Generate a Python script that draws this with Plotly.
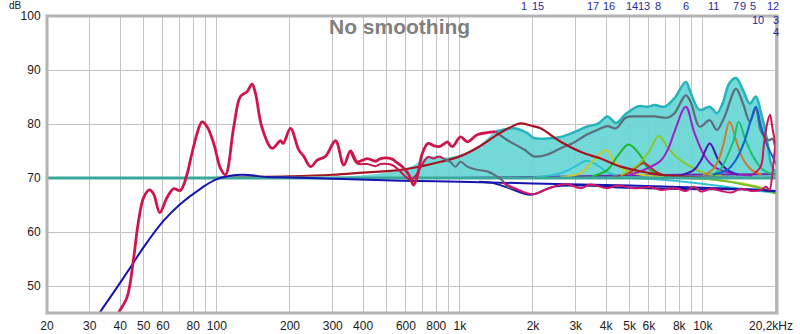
import math
import plotly.graph_objects as go

# ---------------- data ----------------
meas_f = [37, 39.4, 42.7, 45.5, 47.4, 50, 52.8, 55, 58.2, 62.4, 66.4, 70.8, 75.4, 77.8, 83, 86.9, 91.2, 97.1,
          103.5, 108.5, 117.4, 125, 133.3, 139.7, 144.2, 153.7, 169, 182.8, 187.6, 200.9, 217.4, 228, 243,
          259, 280, 308, 333, 355, 378, 416, 450, 472, 527, 545, 580, 617, 645, 670, 700, 740, 780, 820,
          860, 888, 931, 1007, 1074, 1180, 1298, 1404]
meas_db = [42, 45, 47.9, 55.3, 61.5, 66.4, 67.8, 67.0, 63.6, 66.4, 68.0, 67.7, 70.7, 73.3, 78.3, 80.4, 79.5, 76.4,
           71.8, 70.6, 79.5, 85.1, 86.0, 87.4, 85.7, 79.2, 75.5, 76.9, 76.4, 79.2, 75.2, 74.0, 72.1,
           73.3, 74.0, 76.9, 72.4, 75.0, 73.0, 73.6, 73.1, 73.6, 73.5, 73.0, 72.1, 70.6, 68.7, 70.5, 74.5, 76.4, 76.0, 75.8,
           76.3, 76.7, 75.8, 77.6, 76.7, 78.0, 78.4, 78.6]

pred_lo_f = [355, 378, 416, 450, 472, 527, 560, 600, 630, 660, 700, 740, 780, 820, 855]
pred_lo_db = [75.0, 72.7, 72.6, 72.2, 72.6, 72.4, 71.5, 70.2, 69.6, 70.5, 72.5, 73.9, 73.6, 74.0, 73.6]

grey_lo_f = [855, 913, 958, 1007, 1074, 1180, 1300, 1420, 1500, 1570, 1700]
grey_lo_db = [73.6, 73.0, 72.1, 73.0, 72.1, 71.5, 71.2, 70.3, 69.5, 68.4, 68.0]

pred_hi_f = [1500, 1700, 2000, 2300, 2740, 3150, 3440, 4050, 4450, 5220, 6130, 6730, 7760, 8530, 9180, 9840,
             10800, 11900, 13100, 14400, 15800, 17400, 18200, 18800, 19300, 19700, 20000, 20200]
pred_hi_db = [69.2, 68.0, 67.0, 68.0, 68.9, 68.1, 68.8, 68.1, 68.6, 68.1, 68.3, 67.8, 68.1, 67.6, 68.4, 67.5,
              68.0, 67.6, 67.3, 68.0, 67.6, 67.8, 68.4, 67.8, 70.5, 74.5, 76.5, 75.0]

target_f = [30, 32.9, 36.4, 41.4, 45.5, 50, 60.4, 70.8, 85.6, 100, 125, 161, 200, 570, 1000, 2000, 5000,
            10000, 17400, 20200]
target_db = [42, 45, 47.9, 51.6, 54.4, 57.2, 62.1, 65.2, 68.0, 69.8, 70.6, 70.2, 70.1, 69.5, 69.3, 69.0, 68.6,
             68.2, 67.8, 67.6]

navy_f = [1200, 1360, 1600, 1960, 2430, 3150, 5000, 10000, 15000, 18000, 20200]
navy_db = [69.3, 69.1, 68.1, 66.9, 68.4, 68.6, 68.2, 67.9, 67.9, 67.7, 67.5]

flat_f = [20, 20200]
flat_db = [70, 70]

fill_f = [200, 300, 400, 500, 570, 650, 700, 760, 850, 1000, 1200, 1404, 1671, 1897, 2017, 2280, 2601, 2960,
          3320, 3720, 4050, 4390, 4830, 5430, 5950, 6340, 6960, 7650, 8510, 8930, 9700, 10680, 11420, 12060,
          12840, 13700, 14630, 15620, 16530, 17370, 18290, 19000, 19600, 20200]
fill_db = [70.0, 70.2, 70.5, 71.0, 71.5, 72.4, 73.5, 74.0, 73.8, 74.3, 76.0, 78.6, 79.2, 78.3, 77.4, 77.3, 77.6,
           78.5, 79.5, 80.1, 81.4, 80.2, 81.9, 83.3, 83.2, 83.5, 83.2, 84.8, 87.8, 85.7, 82.6, 83.2, 82.0, 83.8,
           87.5, 88.5, 86.3, 83.8, 85.1, 82.0, 77.6, 73.0, 71.5, 71.0]

grey_hi_f = [1404, 1570, 1850, 2017, 2280, 2601, 2960, 3320, 3683, 4050, 4390, 4830, 5430, 6300, 7200, 7650,
             8510, 8930, 9700, 10680, 11420, 12300, 13700, 14630, 15620, 16530, 17370, 18700, 19300, 19800, 20200]
grey_hi_db = [78.6, 77.0, 75.2, 74.0, 74.3, 75.5, 76.6, 78.0, 78.9, 79.6, 79.2, 81.2, 81.4, 81.4, 81.2, 82.0,
              85.3, 84.0, 79.5, 80.7, 78.9, 81.4, 86.5, 83.8, 80.4, 82.9, 78.6, 77.0, 77.3, 76.0, 73.0]

# individual filters (name, colour, freqs, dB)
f1_f = [100, 200, 300, 400, 570, 700, 834, 1000, 1200, 1400, 1600, 1780, 2000, 2150, 2600, 3150, 3800, 4600,
        5570, 6730, 8000, 10000, 20200]
f1_db = [70.05, 70.3, 70.6, 71.0, 71.5, 72.2, 73.0, 74.0, 75.8, 77.8, 79.3, 80.1, 79.6, 79.2, 76.7, 74.8, 73.6,
         72.1, 71.2, 70.6, 70.3, 70.1, 70.0]
f17_f = [2000, 2600, 3000, 3330, 3700, 4000, 4600, 6000]
f17_db = [70.1, 70.9, 72.2, 73.2, 72.3, 71.2, 70.3, 70.0]
f16_f = [2600, 3150, 3500, 4000, 4300, 4830, 5570, 7000]
f16_db = [70.2, 70.9, 73.0, 75.2, 73.2, 71.3, 70.6, 70.2]
f14_f = [3500, 4050, 4450, 4950, 5570, 5950, 6730, 8000]
f14_db = [70.3, 71.5, 74.0, 76.2, 74.0, 71.8, 70.6, 70.2]
f13_f = [4300, 5000, 5400, 5700, 6000, 6500, 7200]
f13_db = [70.2, 71.0, 72.2, 72.8, 72.2, 71.0, 70.3]
f8_f = [4600, 5400, 6000, 6600, 7200, 8140, 8930, 10000, 12000]
f8_db = [70.5, 72.4, 74.9, 77.8, 75.5, 73.2, 72.1, 71.0, 70.4]
f6_f = [5000, 5918, 6734, 7220, 7650, 8510, 9200, 10100, 11100, 13000, 16000]
f6_db = [70.6, 71.8, 73.3, 75.5, 78.6, 83.2, 78.6, 74.3, 72.1, 70.9, 70.4]
f11_f = [8000, 9200, 9840, 10680, 11600, 12600, 14000]
f11_db = [70.4, 71.5, 73.3, 76.4, 73.3, 71.5, 70.6]
f7_f = [10000, 10950, 11600, 12180, 12900, 13830, 14730, 15900, 17500]
f7_db = [70.5, 71.5, 73.3, 76.4, 80.4, 76.4, 73.3, 71.5, 70.6]
f9_f = [11000, 11900, 12600, 13400, 14050, 15000, 16100, 17700, 20200]
f9_db = [70.6, 71.8, 74.0, 77.0, 80.4, 77.0, 74.0, 71.5, 70.5]
f5_f = [11000, 12600, 13660, 14730, 15770, 16530, 17380, 18520, 19700, 20200]
f5_db = [70.6, 71.5, 73.3, 76.4, 80.7, 83.2, 79.5, 75.8, 73.3, 72.1]
f12_f = [16000, 17300, 17800, 18290, 18900, 19400, 20000, 20200]
f12_db = [70.6, 72.1, 75.8, 79.5, 81.7, 78.9, 76.1, 75.5]
f15_f = [1000, 2000, 4000, 8000, 20200]
f15_db = [70.0, 70.2, 70.4, 70.6, 70.7]
f10_f = [5000, 6100, 7220, 10100, 13800, 18000, 20200]
f10_db = [70.0, 69.8, 69.6, 68.9, 68.1, 67.5, 67.2]
f3_f = [8000, 9840, 13500, 17400, 20200]
f3_db = [70.0, 69.9, 69.2, 68.2, 67.2]
f4_f = [8000, 10500, 14000, 17600, 20200]
f4_db = [70.0, 69.8, 69.0, 68.0, 67.0]

filters = [
    ("15", "#6a2aa8", f15_f, f15_db),
    ("10", "#30c0d8", f10_f, f10_db),
    ("3", "#c8c828", f3_f, f3_db),
    ("4", "#70c030", f4_f, f4_db),
    ("17", "#28c4d4", f17_f, f17_db),
    ("16", "#c8cc28", f16_f, f16_db),
    ("14", "#20b828", f14_f, f14_db),
    ("13", "#b82838", f13_f, f13_db),
    ("8", "#88c828", f8_f, f8_db),
    ("6", "#a020c8", f6_f, f6_db),
    ("11", "#4a18b0", f11_f, f11_db),
    ("7", "#c88028", f7_f, f7_db),
    ("9", "#18c070", f9_f, f9_db),
    ("5", "#1060d0", f5_f, f5_db),
    ("12", "#d01458", f12_f, f12_db),
]

# filter number labels: (label, freq, row)
lab_text = ["1", "15", "17", "16", "14", "13", "8", "6", "11", "7", "9", "5", "12", "10", "3", "4"]
lab_freq = [1831, 2092, 3524, 4100, 5100, 5714, 6526, 8512, 11100, 13676, 14610, 16140, 19410, 16840, 20000, 20000]
lab_row = [0, 0, 0, 0, 0, 0, 0, 0, 0, 0, 0, 0, 0, 1, 1, 2]

grid_f = [20, 30, 40, 50, 60, 70, 80, 90, 100, 200, 300, 400, 500, 600, 700, 800, 900,
          1000, 2000, 3000, 4000, 5000, 6000, 7000, 8000, 9000, 10000, 20000]
grid_lab = ["20", "30", "40", "50", "60", "", "80", "", "100", "200", "300", "400", "", "600", "", "800", "",
            "1k", "2k", "3k", "4k", "5k", "6k", "", "8k", "", "10k", ""]
decades = [100, 1000, 10000]
y_ticks = [50, 60, 70, 80, 90, 100]

# ---------------- figure ----------------
fig = go.Figure()
FONT = "Liberation Sans, Arial, sans-serif"

def line(fx, fy, color, width, name=""):
    fig.add_trace(go.Scatter(x=fx, y=fy, mode="lines", line=dict(color=color, width=width, shape="spline",
                                                                  smoothing=1.0),
                             hoverinfo="skip", showlegend=False, name=name))

# fill area
fig.add_trace(go.Scatter(x=fill_f, y=[70] * len(fill_f), mode="lines", line=dict(width=0, color="rgba(0,0,0,0)"),
                         hoverinfo="skip", showlegend=False))
fig.add_trace(go.Scatter(x=fill_f, y=fill_db, mode="lines", fill="tonexty", fillcolor="rgba(108,214,214,0.95)",
                         line=dict(width=0, shape="spline"), hoverinfo="skip", showlegend=False))

# cyan outline (visible part) and grey
cy_f = [f for f in fill_f if f >= 1404]
cy_db = [d for f, d in zip(fill_f, fill_db) if f >= 1404]
line(cy_f, cy_db, "#26b4bc", 2.5)
line(grey_hi_f, grey_hi_db, "#5b6d7d", 2.2)

for name, col, fx, fy in filters:
    line(fx, fy, col, 2, name)
line(f1_f, f1_db, "#a41420", 2.2, "1")

# flat 70 line
fig.add_trace(go.Scatter(x=flat_f, y=flat_db, mode="lines", line=dict(color="#3aa99c", width=3),
                         hoverinfo="skip", showlegend=False))

line(target_f, target_db, "#1414b0", 2)
line(navy_f, navy_db, "#18189c", 2)
line(grey_lo_f, grey_lo_db, "#5b6d7d", 2)
line(pred_lo_f, pred_lo_db, "#c81850", 2)
line(pred_hi_f, pred_hi_db, "#d0186a", 2)
line(meas_f, meas_db, "#d0144c", 2.8)

shapes = []
for d in decades:
    shapes.append(dict(type="line", xref="x", yref="paper", x0=math.log10(d), x1=math.log10(d), y0=0, y1=1,
                       line=dict(color="#6e6e6e", width=1), layer="below"))
shapes.append(dict(type="rect", xref="paper", yref="paper", x0=0, x1=1, y0=0, y1=1,
                   line=dict(color="#b4b4b4", width=3), layer="above"))

annotations = [
    dict(text="No smoothing", xref="paper", yref="paper", x=0.4826, y=0.966, showarrow=False,
         font=dict(family=FONT, size=21, color="#808080", weight="bold"), xanchor="center", yanchor="middle"),
    dict(text="dB", xref="paper", yref="paper", x=(15 - 46.7) / 730, y=(313 - 6) / 297, showarrow=False,
         borderpad=0, font=dict(family=FONT, size=10, color="#202020"), xanchor="center", yanchor="middle"),
    dict(text="20,2kHz", xref="paper", yref="paper", x=(771 - 46.7) / 730, y=(313 - 325.5) / 297, showarrow=False,
         font=dict(family=FONT, size=12, color="#202020"), xanchor="center", yanchor="middle"),
]
row_y = [(313 - 6) / 297, (313 - 20) / 297, (313 - 32) / 297]
for t, f, r in zip(lab_text, lab_freq, lab_row):
    annotations.append(dict(text=t, xref="x", yref="paper", x=math.log10(f), y=row_y[r], showarrow=False,
                            font=dict(family=FONT, size=11, color="#2a2aa0"), xanchor="center", yanchor="middle"))

fig.update_layout(
    width=800, height=334,
    margin=dict(l=47, r=23, t=16, b=21, autoexpand=False),
    paper_bgcolor="white", plot_bgcolor="white",
    shapes=shapes, annotations=annotations,
    xaxis=dict(type="log", range=[math.log10(20), math.log10(20200)], tickvals=grid_f, ticktext=grid_lab,
               showgrid=True, gridcolor="#c4c4c4", gridwidth=1, zeroline=False, showline=False,
               ticks="outside", ticklen=2, tickcolor="rgba(0,0,0,0)", automargin=False,
               tickfont=dict(family=FONT, size=12, color="#202020")),
    yaxis=dict(range=[45, 100], tickvals=y_ticks, showgrid=True, gridcolor="#c4c4c4", gridwidth=1,
               zeroline=False, showline=False, ticks="outside", ticklen=3, tickcolor="rgba(0,0,0,0)",
               automargin=False, tickfont=dict(family=FONT, size=12, color="#202020")),
)

fig.write_html("out.html")
